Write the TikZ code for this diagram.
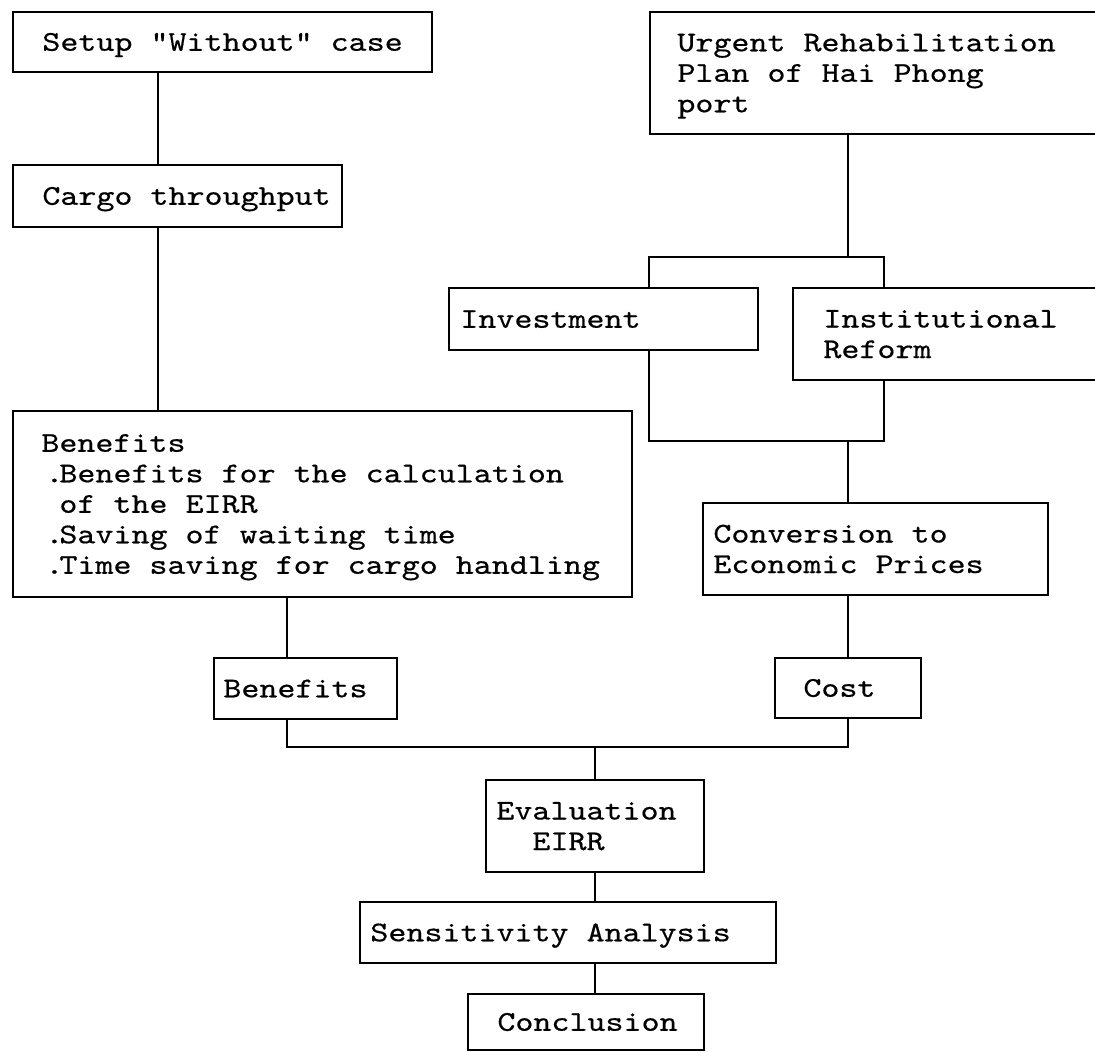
\documentclass[tikz,border=0pt]{standalone}
\usepackage{fontspec}
\newfontfamily\flowfont{lmmono10-regular.otf}[FakeStretch=1.2,FakeBold=0.5]
\usepackage{tikz}
\usetikzlibrary{positioning}
\tikzset{
  flowbox/.style ={rectangle, draw=black, line width=1pt, inner sep=0pt,
                   anchor=north west},
  flowtext/.style={inner sep=0pt, align=left, text=black,
                   text height=#1, text depth=0pt,
                   font=\flowfont\fontsize{14.3pt}{15.25pt}\selectfont},
  flowtext/.default=8.75pt,
  flowline/.style={line width=1pt, draw=black},
}
\newcommand{\itemdot}{\phantom{.}\llap{.\kern-2pt}}

\begin{document}
\begin{tikzpicture}[x=0.5pt, y=0.5pt]
  \fill[white] (0,0) rectangle (1095,-1051);
  \useasboundingbox (0,0) rectangle (1095,-1051);
  \clip (0,0) rectangle (1095,-1051);
  % boxes: name / left / top / width / height / text inset / text height
  \foreach \n/\x/\y/\w/\h/\p/\d/\t in {
      setup/12/11/419/60/15pt/8.75pt/{Setup "Without" case},
      cargo/12/164/329/62/15pt/8.75pt/{Cargo throughput},
      urgent/649/11/480/122/14pt/39.25pt/{Urgent Rehabilitation\\Plan of Hai Phong\\port},
      invest/448/287/309/62/6pt/8.75pt/{Investment},
      inst/792/287/340/92/15.5pt/24pt/{Institutional\\Reform},
      benef/12/410/619/186/14.5pt/69.75pt/{Benefits\\\itemdot Benefits for the calculation\\\phantom{.}of the EIRR\\\itemdot Saving of waiting time\\\itemdot Time saving for cargo handling},
      conv/702/502/345/92/5.5pt/24pt/{Conversion to\\Economic Prices},
      bensm/213/657/183/61/5pt/8.75pt/{Benefits},
      cost/774/657/146/60/14.5pt/8.75pt/{Cost},
      eval/485/779/218/92/5.5pt/24pt/{Evaluation\\\phantom{..}EIRR},
      sens/359/901/416/61/5.5pt/8.75pt/{Sensitivity Analysis},
      concl/467/993/236/56/15pt/8.75pt/{Conclusion}}{
    \node[flowbox, minimum width=\w*0.5pt, minimum height=\h*0.5pt] (\n) at (\x,-\y) {};
    \node[flowtext=\d, right=\p of \n.west] (\n-t) {\t};
  }
  % trunk positions
  \coordinate (lx) at (158,0);
  \coordinate (bx) at (287,0);
  \coordinate (mx) at (595,0);
  \coordinate (rx) at (848,0);
  \coordinate (lbx) at (649,0);
  \coordinate (rbx) at (884,0);
  \coordinate (tb) at (0,-257);
  \coordinate (bb) at (0,-441);
  \coordinate (jb) at (0,-747);
  \foreach \a/\b/\c in {setup/cargo/lx, cargo/benef/lx, benef/bensm/bx,
                        conv/cost/rx, eval/sens/mx, sens/concl/mx}
    \draw[flowline] (\a.south -| \c) -- (\b.north -| \c);
  \draw[flowline] (urgent.south -| rx) -- (rx |- tb);
  \draw[flowline] (invest.north -| lbx) |- (rbx |- tb) -- (inst.north -| rbx);
  \draw[flowline] (invest.south -| lbx) |- (rbx |- bb) -- (inst.south -| rbx);
  \draw[flowline] (rx |- bb) -- (conv.north -| rx);
  \draw[flowline] (bensm.south -| bx) |- (rx |- jb) -- (cost.south -| rx);
  \draw[flowline] (mx |- jb) -- (eval.north -| mx);
\end{tikzpicture}
\end{document}
